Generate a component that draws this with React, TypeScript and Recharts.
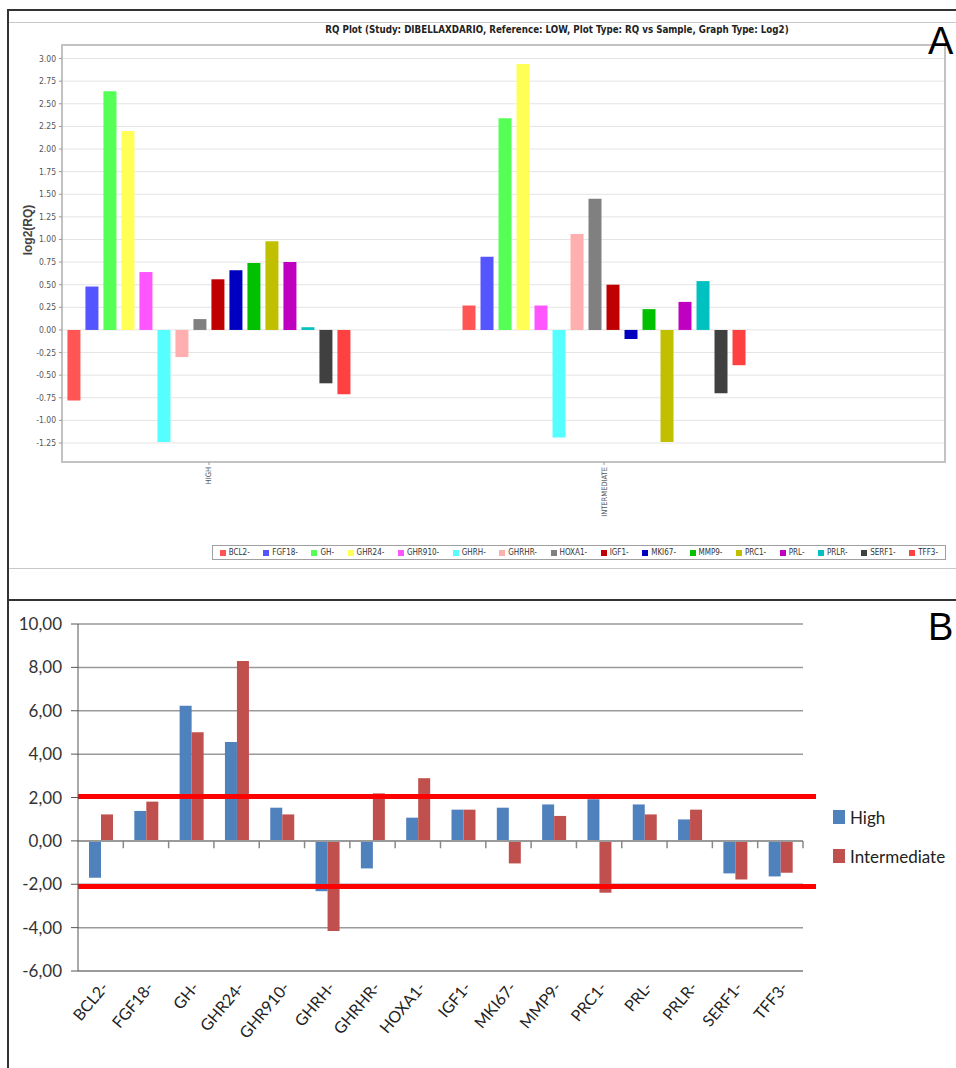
import React from 'react';
import { BarChart, Bar, XAxis, YAxis, CartesianGrid, Legend, ReferenceLine, ReferenceArea } from 'recharts';

// ---------- Panel A data (log2 RQ, reference LOW) ----------
const genes = ['BCL2-', 'FGF18-', 'GH-', 'GHR24-', 'GHR910-', 'GHRH-', 'GHRHR-', 'HOXA1-', 'IGF1-', 'MKI67-', 'MMP9-', 'PRC1-', 'PRL-', 'PRLR-', 'SERF1-', 'TFF3-'];
const geneColors = ['#FF5555', '#5555FF', '#55FF55', '#FFFF55', '#FF55FF', '#55FFFF', '#FFAFAF', '#808080', '#C00000', '#0000C0', '#00C000', '#C0C000', '#C000C0', '#00C0C0', '#404040', '#FF4040'];
const samplesA = ['HIGH', 'INTERMEDIATE'];
const log2High = [-0.78, 0.48, 2.64, 2.2, 0.64, -1.24, -0.3, 0.12, 0.56, 0.66, 0.74, 0.98, 0.75, 0.03, -0.59, -0.71];
const log2Intermediate = [0.27, 0.81, 2.34, 2.94, 0.27, -1.19, 1.06, 1.45, 0.5, -0.1, 0.23, -1.24, 0.31, 0.54, -0.7, -0.39];
const ticksA = [-1.25, -1.0, -0.75, -0.5, -0.25, 0, 0.25, 0.5, 0.75, 1.0, 1.25, 1.5, 1.75, 2.0, 2.25, 2.5, 2.75, 3.0];

// ---------- Panel B data ----------
const seriesB = ['High', 'Intermediate'];
const seriesBColors = ['#4F81BD', '#C0504D'];
const valuesHighB = [-1.7, 1.38, 6.23, 4.56, 1.53, -2.32, -1.27, 1.07, 1.44, 1.53, 1.68, 1.92, 1.68, 0.99, -1.5, -1.64];
const valuesIntermediateB = [1.22, 1.81, 5.01, 8.29, 1.22, -4.15, 2.19, 2.89, 1.44, -1.04, 1.15, -2.39, 1.22, 1.44, -1.78, -1.47];
const ticksB = [-6, -4, -2, 0, 2, 4, 6, 8, 10];
const thresholdsB = [2.05, -2.1];

const dataA = samplesA.map((s, i) => {
  const row: any = { idx: i, sample: s };
  const vals = i === 0 ? log2High : log2Intermediate;
  genes.forEach((g, j) => { row[g] = vals[j]; });
  return row;
});

const dataB = genes.map((g, j) => ({ gene: g, High: valuesHighB[j], Intermediate: valuesIntermediateB[j] }));

const narrow = "'Liberation Sans Narrow', 'DejaVu Sans Condensed', sans-serif";
const calib = "Lato, 'Open Sans', sans-serif";

const domainXA: [number, number] = [-0.372, 1.863];
const domainYA: [number, number] = [-1.46, 3.15];

const SampleTick = (props: any) => {
  const { x, y, payload } = props;
  return (
    <text x={x} y={y} transform={`rotate(-90 ${x} ${y})`} textAnchor="end" dy={2.5} fontSize={7.5} fill="#555" fontFamily={narrow}>
      {samplesA[payload.value]}
    </text>
  );
};

const GeneTick = (props: any) => {
  const { x, y, payload } = props;
  const tx = x + 4;
  const ty = y + 5;
  return (
    <text x={tx} y={ty} transform={`rotate(-50 ${tx} ${ty})`} textAnchor="end" dy={6} fontSize={16} fill="#222" fontFamily={calib}>
      {payload.value}
    </text>
  );
};

const LegendA = () => (
  <div style={{ border: '1px solid #a0a0a0', height: 15, display: 'flex', alignItems: 'center', justifyContent: 'space-around', fontSize: 8, fontFamily: narrow, color: '#333', boxSizing: 'border-box', background: '#fff' }}>
    {genes.map((g, j) => (
      <span key={g} style={{ display: 'flex', alignItems: 'center' }}>
        <span style={{ display: 'inline-block', width: 6, height: 6, background: geneColors[j], marginRight: 3 }} />
        {g}
      </span>
    ))}
  </div>
);

const LegendB = () => (
  <div style={{ fontFamily: calib, fontSize: 17, color: '#222' }}>
    {seriesB.map((s, i) => (
      <div key={s} style={{ display: 'flex', alignItems: 'center', height: 20, marginBottom: 19 }}>
        <span style={{ display: 'inline-block', width: 12, height: 14, background: seriesBColors[i], marginRight: 5 }} />
        {s}
      </div>
    ))}
  </div>
);

const RedLine = (props: any) => (
  <line x1={props.x1} y1={props.y1} x2={props.x2 + 13} y2={props.y2} stroke="#FF0000" strokeWidth={5} />
);

export default function App() {
  return (
    <div style={{ position: 'absolute', left: 0, top: 0, width: 956, height: 1068, background: '#fff', overflow: 'hidden' }}>
      {/* Panel A */}
      <div style={{ position: 'absolute', left: 0, top: 0 }}>
        <BarChart width={956} height={600} data={dataA} margin={{ top: 45, right: 11, bottom: 78, left: 12 }} barGap={5}>
          <CartesianGrid vertical={false} stroke="#e4e4e4" />
          <XAxis type="number" dataKey="idx" domain={domainXA} allowDataOverflow ticks={[0, 1]} interval={0}
            height={60} axisLine={false} tickLine={{ stroke: '#999' }} tickSize={3} tickMargin={2} tick={<SampleTick />} />
          <YAxis domain={domainYA} allowDataOverflow ticks={ticksA} interval={0} width={50}
            tickFormatter={(v: number) => v.toFixed(2)} axisLine={false} tickLine={{ stroke: '#999' }} tickSize={3} tickMargin={3}
            tick={{ fontSize: 8.5, fill: '#555', fontFamily: narrow }} />
          <ReferenceArea x1={domainXA[0]} x2={domainXA[1]} y1={domainYA[0]} y2={domainYA[1]} fill="none" stroke="#c2c2c2" strokeWidth={2} fillOpacity={0} ifOverflow="visible" />
          {genes.map((g, j) => (
            <Bar key={g} dataKey={g} name={g} fill={geneColors[j]} barSize={13} isAnimationActive={false} />
          ))}
          <Legend verticalAlign="middle" align="center" layout="horizontal" wrapperStyle={{ left: 212, top: 545, width: 734, height: 16 }} content={<LegendA />} />
        </BarChart>
      </div>

      {/* Panel B */}
      <div style={{ position: 'absolute', left: 0, top: 600 }}>
        <BarChart width={956} height={468} data={dataB} margin={{ top: 24, right: 153, bottom: 0, left: 8 }} barGap={0} barCategoryGap="23%">
          <CartesianGrid vertical={false} stroke="#9a9a9a" strokeWidth={1.5} />
          <XAxis dataKey="gene" interval={0} height={97} tickLine={false} axisLine={{ stroke: '#9a9a9a', strokeWidth: 2 }} tick={<GeneTick />} />
          <YAxis domain={[-6, 10]} ticks={ticksB} interval={0} width={70}
            tickFormatter={(v: number) => v.toFixed(2).replace('.', ',')}
            axisLine={{ stroke: '#555' }} tickLine={{ stroke: '#555' }} tickSize={7} tickMargin={9}
            tick={{ fontSize: 17, fill: '#333', fontFamily: calib }} />
          <ReferenceLine y={0} stroke="#9a9a9a" strokeWidth={2} />
          {genes.slice(1).map((g) => (
            <ReferenceLine key={g} segment={[{ x: g, y: 0 }, { x: g, y: -0.34 }]} position="start" stroke="#888" strokeWidth={1.5} />
          ))}
          <ReferenceLine segment={[{ x: genes[genes.length - 1], y: 0 }, { x: genes[genes.length - 1], y: -0.34 }]} position="end" stroke="#888" strokeWidth={1.5} />
          <Bar dataKey="High" name="High" fill={seriesBColors[0]} barSize={12} isAnimationActive={false} />
          <Bar dataKey="Intermediate" name="Intermediate" fill={seriesBColors[1]} barSize={12} isAnimationActive={false} />
          {thresholdsB.map((t) => (
            <ReferenceLine key={t} y={t} stroke="#FF0000" strokeWidth={5} shape={RedLine} />
          ))}
          <Legend verticalAlign="middle" align="center" layout="horizontal" wrapperStyle={{ left: 833, top: 207, width: 120 }} content={<LegendB />} />
        </BarChart>
      </div>

      {/* Title & labels */}
      <div style={{ position: 'absolute', left: 257, top: 24, width: 600, textAlign: 'center', fontFamily: narrow, fontWeight: 'bold', fontSize: 9.7, color: '#222', whiteSpace: 'nowrap' }}>
        RQ Plot (Study: DIBELLAXDARIO, Reference: LOW, Plot Type: RQ vs Sample, Graph Type: Log2)
      </div>
      <div style={{ position: 'absolute', left: -22, top: 223, width: 100, textAlign: 'center', transform: 'rotate(-90deg)', fontFamily: "'Liberation Sans', Arial, sans-serif", fontWeight: 'bold', fontSize: 12, color: '#444' }}>
        log2(RQ)
      </div>
      <div style={{ position: 'absolute', left: 928, top: 19, fontFamily: "'Liberation Sans', Arial, sans-serif", fontSize: 38, color: '#000', lineHeight: '44px' }}>A</div>
      <div style={{ position: 'absolute', left: 928, top: 605, fontFamily: "'Liberation Sans', Arial, sans-serif", fontSize: 38, color: '#000', lineHeight: '44px' }}>B</div>

      {/* Frame lines */}
      <div style={{ position: 'absolute', left: 7, top: 9, width: 949, height: 2, background: '#333' }} />
      <div style={{ position: 'absolute', left: 7, top: 9, width: 2, height: 1059, background: '#333' }} />
      <div style={{ position: 'absolute', left: 9, top: 22, width: 947, height: 1, background: '#c8c8c8' }} />
      <div style={{ position: 'absolute', left: 9, top: 568, width: 947, height: 1, background: '#c8c8c8' }} />
      <div style={{ position: 'absolute', left: 7, top: 599, width: 949, height: 2, background: '#333' }} />
    </div>
  );
}
